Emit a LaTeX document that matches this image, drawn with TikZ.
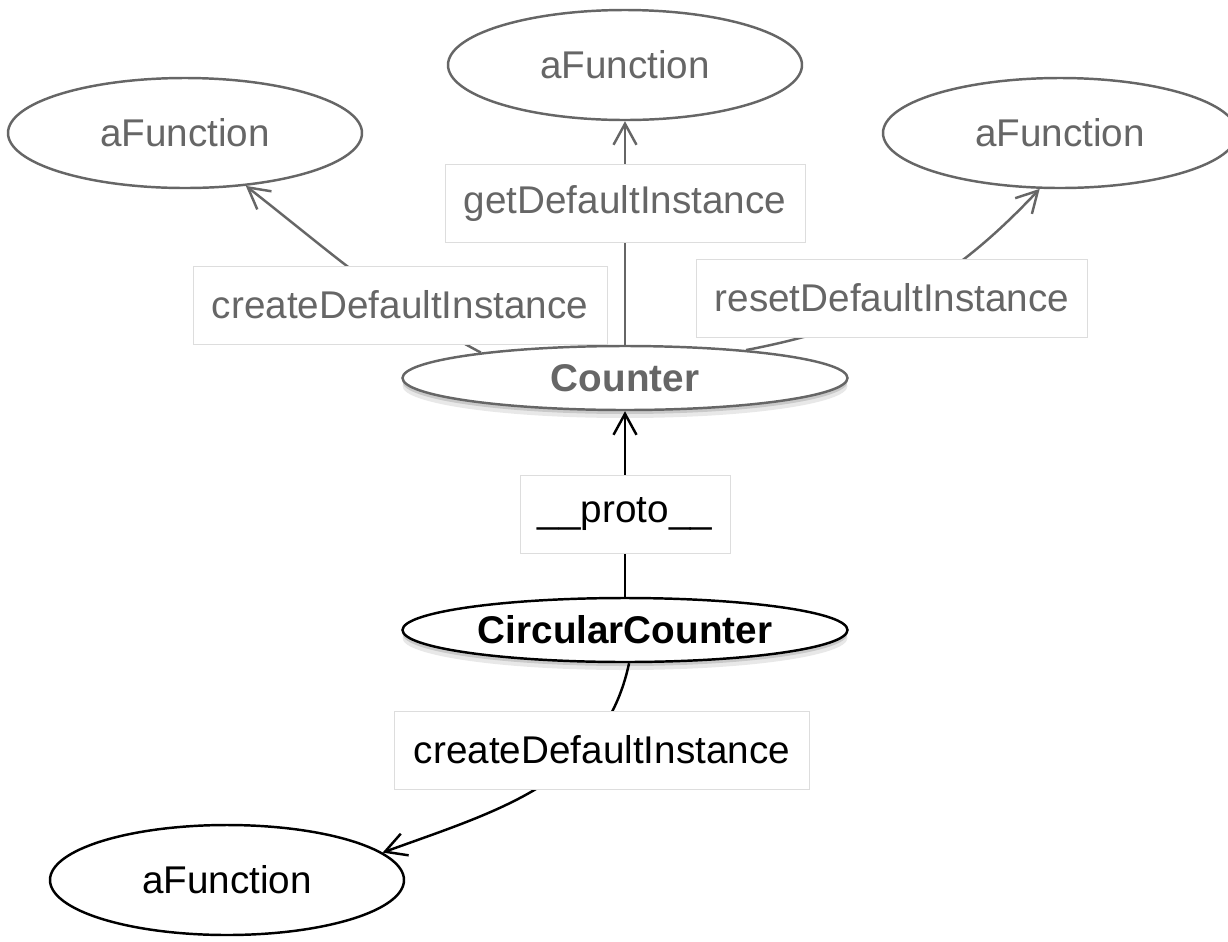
\documentclass[tikz,border=0pt]{standalone}
\usepackage{fontspec}
\setmainfont{Liberation Sans}
\usetikzlibrary{arrows.meta,shapes.geometric,shadows}
\definecolor{dimgray}{HTML}{666666}
\definecolor{boxline}{HTML}{DDDDDD}
\tikzset{
  fn/.style={ellipse,draw,line width=1.4pt,fill=white,inner sep=0pt,
    minimum width={354*0.02cm},minimum height={110*0.02cm},font=\fontsize{22}{26}\selectfont},
  cls/.style={ellipse,draw,line width=1.4pt,fill=white,inner sep=0pt,
    minimum width={445*0.02cm},minimum height={64*0.02cm},font=\fontsize{22}{26}\selectfont\bfseries,
    drop shadow={opacity=0.18,shadow xshift=0pt,shadow yshift=-0.16cm},
    drop shadow={opacity=0.3,shadow xshift=0pt,shadow yshift=-0.08cm}},
  lbl/.style={rectangle,draw=boxline,line width=0.5pt,fill=white,inner sep=0pt,
    minimum height={78*0.02cm},font=\fontsize{22}{26}\selectfont},
  conn/.style={line width=1.4pt,-{Straight Barb[length=0.42cm,width=0.46cm,line width=1.4pt]}},
  grey/.style={draw=dimgray,text=dimgray},
}
\begin{document}
\begin{tikzpicture}[x=0.02cm,y=-0.02cm]
\useasboundingbox (0,0) rectangle (1228,941);
% nodes
\node[fn,grey] (tf) at (625,65) {aFunction};
\node[fn,grey] (lf) at (185,133) {aFunction};
\node[fn,grey] (rf) at (1060,133) {aFunction};
\node[cls,grey] (counter) at (625,378) {Counter};
\node[cls,draw=black] (cc) at (625,630) {CircularCounter};
\node[fn,draw=black] (bf) at (227,880) {aFunction};
% connectors
\draw[conn,dimgray] (counter.170) to[out=152,in=-38] (lf.-41);
\draw[conn,dimgray] (counter.north) -- (tf.south);
\draw[conn,dimgray] (counter.13) to[bend right=18] (rf.250);
\draw[conn,black] (cc.north) -- (counter.south);
\draw[conn,black] (cc.-83) to[out=-102,in=20] (bf.10);
% labels
\node[lbl,text=dimgray,minimum width={360*0.02cm}] (l1) at (625,203) {getDefaultInstance};
\node[lbl,text=dimgray,minimum width={414*0.02cm}] (l2) at (400,305) {createDefaultInstance};
\node[lbl,text=dimgray,minimum width={391*0.02cm}] (l3) at (892,298) {resetDefaultInstance};
\node[lbl,text=black,minimum width={210*0.02cm}] (l4) at (625,514) {\_\_proto\_\_};
\node[lbl,text=black,minimum width={415*0.02cm}] (l5) at (602,750) {createDefaultInstance};
\end{tikzpicture}
\end{document}
